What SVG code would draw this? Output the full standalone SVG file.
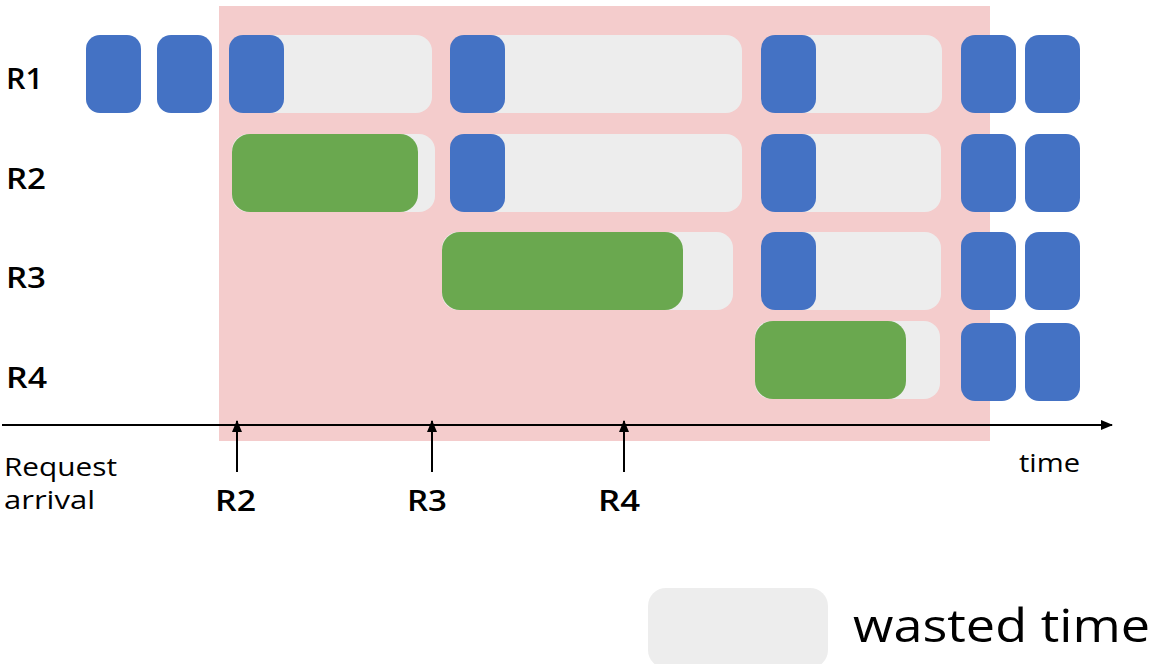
<svg xmlns="http://www.w3.org/2000/svg" width="1152" height="664" viewBox="0 0 1152 664">
<defs>
<style>
.blue{fill:#4472C4}
.green{fill:#6AA84F}
.gray{fill:#EDEDED}
.lbl{font-family:"Open Sans","Noto Sans","Liberation Sans",sans-serif;fill:#000}
.rl{font-size:29px;font-weight:600}
.ax{stroke:#000;stroke-width:2;fill:none}
</style>
<marker id="ah" markerWidth="12" markerHeight="10" refX="11" refY="5" orient="auto" markerUnits="userSpaceOnUse">
<path d="M0,0 L12,5 L0,10 Z" fill="#000"/>
</marker>
</defs>
<rect x="0" y="0" width="1152" height="664" fill="#fff"/>
<rect id="window" x="219" y="6" width="771" height="435" fill="#F4CCCC"/>

<g id="row-labels">
<text class="lbl rl" x="6" y="89" textLength="37" lengthAdjust="spacingAndGlyphs">R1</text>
<text class="lbl rl" x="6" y="189" textLength="40" lengthAdjust="spacingAndGlyphs">R2</text>
<text class="lbl rl" x="6" y="288" textLength="40" lengthAdjust="spacingAndGlyphs">R3</text>
<text class="lbl rl" x="6" y="388" textLength="41" lengthAdjust="spacingAndGlyphs">R4</text>
</g>

<g id="R1">
<rect class="blue" x="86" y="35" width="55" height="78" rx="14"/>
<rect class="blue" x="157" y="35" width="55" height="78" rx="14"/>
<rect class="gray" x="229" y="35" width="203" height="78" rx="16"/>
<rect class="blue" x="229" y="35" width="55" height="78" rx="14"/>
<rect class="gray" x="450" y="35" width="292" height="78" rx="16"/>
<rect class="blue" x="450" y="35" width="55" height="78" rx="14"/>
<rect class="gray" x="761" y="35" width="181" height="78" rx="16"/>
<rect class="blue" x="761" y="35" width="55" height="78" rx="14"/>
<rect class="blue" x="961" y="35" width="55" height="78" rx="14"/>
<rect class="blue" x="1025" y="35" width="55" height="78" rx="14"/>
</g>

<g id="R2">
<rect class="gray" x="232" y="134" width="203" height="78" rx="16"/>
<rect class="green" x="232" y="134" width="186" height="78" rx="18"/>
<rect class="gray" x="450" y="134" width="292" height="78" rx="16"/>
<rect class="blue" x="450" y="134" width="55" height="78" rx="14"/>
<rect class="gray" x="761" y="134" width="180" height="78" rx="16"/>
<rect class="blue" x="761" y="134" width="55" height="78" rx="14"/>
<rect class="blue" x="961" y="134" width="55" height="78" rx="14"/>
<rect class="blue" x="1025" y="134" width="55" height="78" rx="14"/>
</g>

<g id="R3">
<rect class="gray" x="442" y="232" width="291" height="78" rx="16"/>
<rect class="green" x="442" y="232" width="241" height="78" rx="18"/>
<rect class="gray" x="761" y="232" width="180" height="78" rx="16"/>
<rect class="blue" x="761" y="232" width="55" height="78" rx="14"/>
<rect class="blue" x="961" y="232" width="55" height="78" rx="14"/>
<rect class="blue" x="1025" y="232" width="55" height="78" rx="14"/>
</g>

<g id="R4">
<rect class="gray" x="755" y="321" width="185" height="78" rx="16"/>
<rect class="green" x="755" y="321" width="151" height="78" rx="18"/>
<rect class="blue" x="961" y="323" width="55" height="78" rx="14"/>
<rect class="blue" x="1025" y="323" width="55" height="78" rx="14"/>
</g>

<g id="connectors">
<line class="ax" x1="2" y1="425" x2="1112" y2="425" marker-end="url(#ah)"/>
<line class="ax" x1="237" y1="472" x2="237" y2="421" marker-end="url(#ah)"/>
<line class="ax" x1="432" y1="472" x2="432" y2="421" marker-end="url(#ah)"/>
<line class="ax" x1="624" y1="472" x2="624" y2="421" marker-end="url(#ah)"/>
</g>

<g id="axis-labels">
<text class="lbl" x="4" y="476" font-size="26" textLength="113" lengthAdjust="spacingAndGlyphs">Request</text>
<text class="lbl" x="4" y="509" font-size="26" textLength="91" lengthAdjust="spacingAndGlyphs">arrival</text>
<text class="lbl rl" x="215" y="511" textLength="41" lengthAdjust="spacingAndGlyphs">R2</text>
<text class="lbl rl" x="407" y="511" textLength="40" lengthAdjust="spacingAndGlyphs">R3</text>
<text class="lbl rl" x="598" y="511" textLength="42" lengthAdjust="spacingAndGlyphs">R4</text>
<text class="lbl" x="1019" y="472" font-size="26" textLength="61" lengthAdjust="spacingAndGlyphs">time</text>
</g>

<g id="legend">
<rect class="gray" x="648" y="588" width="180" height="80" rx="18"/>
<text class="lbl" x="853" y="642" font-size="45" textLength="297" lengthAdjust="spacingAndGlyphs">wasted time</text>
</g>
</svg>
